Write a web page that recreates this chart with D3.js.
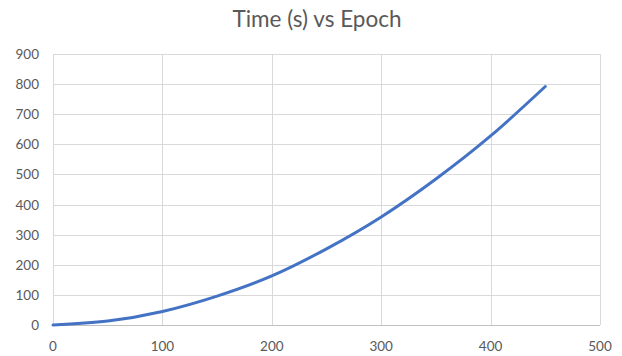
<!DOCTYPE html>
<html>
<head>
<meta charset="utf-8">
<script src="https://cdn.jsdelivr.net/npm/d3@7"></script>
<style>
  body { margin: 0; background: #fff; }
  text { font-family: Lato, "Open Sans", sans-serif; fill: #595959; }
</style>
</head>
<body>
<script>
const w = 622;
const h = 356;

// data
const epochs = [0, 50, 100, 150, 200, 250, 300, 350, 400, 450];
const times = [0, 13, 45, 96, 163, 253, 359, 485, 628, 792];
const xTicks = [0, 100, 200, 300, 400, 500];
const yTicks = [0, 100, 200, 300, 400, 500, 600, 700, 800, 900];

const points = epochs.map((e, i) => ({ x: e, y: times[i] }));

// SVG

const svg = d3.select("body").append("svg").attr("width", w).attr("height", h);

const x = d3.scaleLinear().domain([0, 500]).range([53, 600]);
const y = d3.scaleLinear().domain([0, 900]).range([325, 54]);

// Gridlines

svg
  .append("g")
  .selectAll("line")
  .data(yTicks.filter((d) => d > 0))
  .join("line")
  .attr("x1", x(0))
  .attr("x2", x(500))
  .attr("y1", (d) => Math.round(y(d)) + 0.5)
  .attr("y2", (d) => Math.round(y(d)) + 0.5)
  .attr("stroke", "#d9d9d9");

svg
  .append("g")
  .selectAll("line")
  .data(xTicks)
  .join("line")
  .attr("x1", (d) => Math.round(x(d)) + 0.5)
  .attr("x2", (d) => Math.round(x(d)) + 0.5)
  .attr("y1", y(0))
  .attr("y2", y(900))
  .attr("stroke", "#d9d9d9");

// Bottom axis line

svg
  .append("line")
  .attr("x1", x(0))
  .attr("x2", x(500))
  .attr("y1", Math.round(y(0)) + 0.5)
  .attr("y2", Math.round(y(0)) + 0.5)
  .attr("stroke", "#bfbfbf");

// Tick labels

svg
  .append("g")
  .selectAll("text")
  .data(yTicks)
  .join("text")
  .attr("x", 39)
  .attr("y", (d) => y(d) + 5)
  .attr("text-anchor", "end")
  .attr("font-size", 13.5)
  .text((d) => d);

svg
  .append("g")
  .selectAll("text")
  .data(xTicks)
  .join("text")
  .attr("x", (d) => x(d))
  .attr("y", 351)
  .attr("text-anchor", "middle")
  .attr("font-size", 13.5)
  .text((d) => d);

// Line

const line = d3
  .line()
  .x((d) => x(d.x))
  .y((d) => y(d.y))
  .curve(d3.curveMonotoneX);

svg
  .append("path")
  .datum(points)
  .attr("d", line)
  .attr("fill", "none")
  .attr("stroke", "#4472c4")
  .attr("stroke-width", 3)
  .attr("stroke-linecap", "round");

// Title

svg
  .append("text")
  .attr("x", 317)
  .attr("y", 27)
  .attr("text-anchor", "middle")
  .attr("font-size", 22.5)
  .text("Time (s) vs Epoch");
</script>
</body>
</html>
